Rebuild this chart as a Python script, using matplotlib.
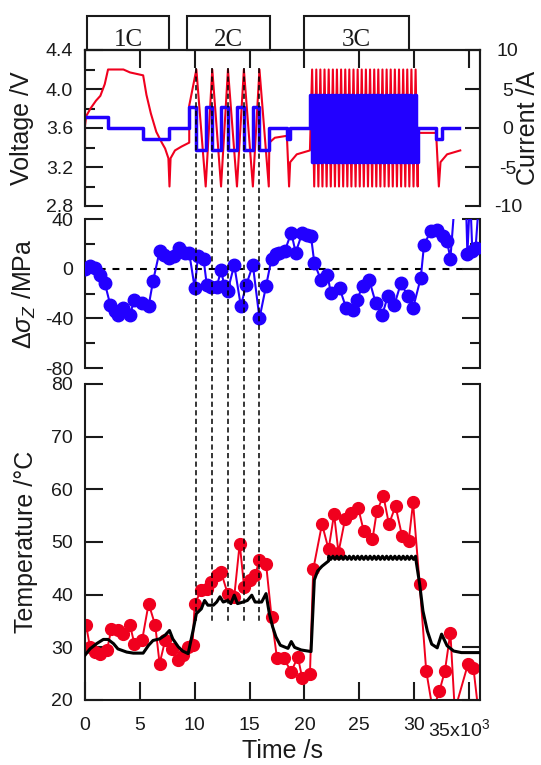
import matplotlib.pyplot as plt
from matplotlib.patches import Rectangle
from matplotlib.lines import Line2D
from matplotlib.transforms import blended_transform_factory

plt.rcParams['font.family'] = ['Liberation Sans', 'DejaVu Sans']
plt.rcParams['axes.unicode_minus'] = False
plt.rcParams['mathtext.fontset'] = 'custom'
plt.rcParams['mathtext.rm'] = 'Liberation Sans'
plt.rcParams['mathtext.it'] = 'Liberation Sans:italic'
plt.rcParams['mathtext.bf'] = 'Liberation Sans:bold'

RED = '#f0001e'
BLUE = '#2200ff'
INK = '#1a1a1a'

# ---- data, time in 10^3 s ----
# voltage during 1C step and the rest after it
v1_t = [0.0, 0.0, 0.1, 0.5, 1.0, 1.4, 1.8, 2.1, 3.5, 4.1, 5.3, 5.6, 6.0, 6.5, 7.0,
        7.3, 7.6, 7.7, 7.8, 8.2, 8.8, 9.5, 9.5]
v1_v = [3.40, 3.62, 3.72, 3.80, 3.88, 3.93, 4.05, 4.20, 4.20, 4.17, 4.14, 3.94, 3.75, 3.56, 3.45,
        3.39, 3.29, 3.00, 3.29, 3.37, 3.41, 3.45, 3.83]
# 2C cycles: end of charge / end of discharge
c2_peak_t = [10.15, 11.6, 13.03, 14.48, 15.9]
c2_trough_t = [11.0, 12.4, 13.85, 15.3, 16.75]
# rest between 2C and 3C
v2_t = [16.8, 17.3, 18.4, 18.6, 18.7, 19.3, 20.5]
v2_v = [3.45, 3.50, 3.52, 3.00, 3.25, 3.33, 3.37]
# 3C cycles
c3_peak_t = [20.70, 21.08, 21.45, 21.83, 22.21, 22.59, 22.96, 23.34, 23.72, 24.09, 24.47, 24.85, 25.22,
             25.60, 25.98, 26.36, 26.73, 27.11, 27.49, 27.86, 28.24, 28.62, 29.00, 29.37, 29.75, 30.13]
c3_trough_t = [20.89, 21.27, 21.64, 22.02, 22.40, 22.78, 23.15, 23.53, 23.91, 24.28, 24.66, 25.04, 25.41,
               25.79, 26.17, 26.55, 26.92, 27.30, 27.68, 28.05, 28.43, 28.81, 29.19, 29.56, 29.94, 30.32]
# rest after 3C
v3_t = [30.35, 32.0, 32.25, 32.4, 33.0, 34.2]
v3_v = [3.55, 3.55, 3.00, 3.25, 3.33, 3.37]
V_HI, V_LO = 4.2, 3.0

# current levels (A)
I1_HI, I1_LO = 1.4, -1.4
I2_HI, I2_LO = 2.7, -2.85
I3_HI, I3_LO = 4.26, -4.34
I_PULSE = -1.35

# axial stress change (MPa)
stress_t = [0.0, 0.45, 0.9, 1.4, 1.8, 2.3, 2.7, 3.0, 3.5, 4.1, 4.5, 5.2, 5.8, 6.2, 6.8,
            7.2, 7.7, 8.1, 8.6, 9.1, 9.5, 10.0, 10.3, 10.8, 11.1, 11.5, 12.0, 12.4, 12.7, 13.0,
            13.6, 14.2, 14.7, 15.3, 15.9, 16.5, 17.0, 17.4, 17.7, 18.2, 18.8, 19.2, 19.8, 20.2, 20.6,
            20.9, 21.5, 22.1, 22.4, 23.2, 23.8, 24.4, 24.8, 25.3, 25.9, 26.5, 27.1, 27.6, 28.2, 28.8,
            29.4, 29.9, 30.6, 30.9, 31.5, 32.1, 32.6, 33.0, 33.3, 33.75, 34.7, 34.85, 35.1, 35.3, 35.6,
            35.95]
stress_v = [0, 2, 0.5, -4.8, -11.5, -29, -34, -37, -32, -37, -25, -28, -30, -10, 14,
            11, 8.6, 10, 16.6, 13, 12.6, -15.6, 10, 8, -13, -15, -15, -1, -14, -18,
            3, -30, -13, 3, -40, -14, 8, 12, 13, 14, 29, 13, 28.7, 27, 26,
            4.6, -9, -4.8, -19.6, -15.6, -31.7, -33, -25, -14, -9, -27.7, -37, -22, -29, -11.5,
            -22, -31.7, -7.5, 19.3, 30, 31, 26, 22, 8, 60, 60, 12, 60, 14, 17,
            60]

# measured temperature (dots)
temp_t = [0.1, 0.45, 0.9, 1.4, 2.0, 2.4, 3.0, 3.5, 4.1, 4.5, 5.2, 5.8, 6.4, 6.8, 7.3,
          7.9, 8.5, 8.9, 9.4, 9.8, 10.0, 10.6, 11.1, 11.5, 12.0, 12.4, 13.0, 13.6, 14.1, 14.5,
          15.0, 15.5, 15.9, 16.5, 17.0, 17.5, 18.1, 18.8, 19.4, 19.8, 20.5, 20.8, 21.6, 22.2, 22.7,
          23.1, 23.7, 24.2, 24.9, 25.4, 26.2, 26.6, 27.2, 27.7, 28.3, 28.9, 29.5, 29.9, 30.5, 31.1,
          31.7, 32.3, 32.8, 33.3, 33.7, 34.9, 35.4, 35.9]
temp_v = [34.2, 30.1, 29.1, 28.8, 29.4, 33.5, 33.2, 32.6, 34.2, 30.7, 31.3, 38.3, 34.2, 26.9, 31.3,
          29.7, 27.5, 28.5, 30.1, 30.4, 38.3, 40.8, 41.1, 42.4, 43.7, 44.3, 40.2, 39.6, 49.7, 41.5,
          42.7, 43.7, 46.5, 45.9, 35.8, 27.9, 27.9, 25.4, 28.2, 24.1, 24.9, 44.8, 53.4, 48.6, 55.3,
          48.0, 54.3, 55.6, 56.5, 52.1, 50.5, 55.9, 58.7, 53.4, 56.8, 51.1, 50.2, 57.5, 42.0, 25.5,
          18.0, 21.7, 25.5, 32.8, 18.0, 26.8, 26.1, 17.0]

# simulated temperature (black line)
tc1_t = [0, 0.45, 1.06, 1.67, 2.1, 2.6, 3.0, 3.8, 4.4, 5.3, 5.8, 6.2, 6.8, 7.3, 7.7,
         8.0, 8.5, 8.9, 9.4, 9.85, 10.15, 10.6, 10.9, 11.2, 11.7, 12.0, 12.3, 12.6, 13.0, 13.3,
         13.6, 13.9, 14.4, 14.8, 15.2, 15.5, 16.1, 16.5, 16.8, 17.1, 17.4, 17.8, 18.5, 18.8, 19.1,
         19.7, 20.6, 20.9, 21.2, 21.6, 22.2]
tc1_v = [28.5, 29.7, 30.7, 31.5, 31.5, 30.7, 29.7, 29.1, 28.9, 28.9, 30.4, 31.3, 31.6, 32.3, 33.2,
         31.6, 30.1, 29.3, 28.8, 33.2, 36.4, 37.3, 38.9, 38.0, 38.0, 38.6, 39.6, 38.6, 38.9, 38.3,
         39.9, 38.3, 38.6, 38.9, 39.9, 38.6, 38.6, 40.2, 36.4, 33.9, 32.0, 30.4, 29.8, 31.1, 30.0,
         29.5, 29.2, 42.8, 44.5, 45.4, 46.4]
TC_HI, TC_LO = 47.3, 46.7
tc3_t = [30.2, 30.5, 30.8, 31.2, 31.6, 32.1, 32.5, 33.0, 33.6, 34.3, 35.0, 36.0]
tc3_v = [46.1, 42.0, 36.9, 33.1, 30.6, 29.9, 32.5, 30.3, 29.3, 29.0, 29.0, 29.0]

# dashed markers (end of each 2C charge)
mark_t = [10.15, 11.6, 13.03, 14.48, 15.9]

# C-rate boxes
box_labels = ['1C', '2C', '3C']
box_start = [0.15, 9.3, 20.0]
box_end = [7.7, 16.9, 29.5]

# ---- assemble the cycling series ----
volt_t = list(v1_t)
volt_v = list(v1_v)
cur_t = [0.0, 2.1, 5.3, 7.7, 9.5]
cur_a = [I1_HI, 0, I1_LO, 0, I2_HI]
for p, tr in zip(c2_peak_t, c2_trough_t):
    volt_t += [p, tr]
    volt_v += [V_HI, V_LO]
    cur_t += [p, tr]
    cur_a += [I2_LO, I2_HI]
cur_a[-1] = 0
volt_t += v2_t
volt_v += v2_v
cur_t += [18.4, 18.7, 20.5]
cur_a += [I_PULSE, 0, I3_HI]
tc_t = list(tc1_t)
tc_v = list(tc1_v)
for p, tr in zip(c3_peak_t, c3_trough_t):
    volt_t += [p, tr]
    volt_v += [V_HI, V_LO]
    cur_t += [p, tr]
    cur_a += [I3_LO, I3_HI]
    if 22.2 < p < 30.2:
        tc_t.append(p)
        tc_v.append(TC_HI)
    if 22.2 < tr < 30.2:
        tc_t.append(tr)
        tc_v.append(TC_LO)
cur_a[-1] = 0
volt_t += v3_t
volt_v += v3_v
cur_t += [32.0, 32.5, 34.1]
cur_a += [I_PULSE, 0, 0]
tc_t += tc3_t
tc_v += tc3_v

# ---- figure ----
W, H = 541, 765
fig = plt.figure(figsize=(W / 100, H / 100), dpi=100)
L, R = 85 / W, 480 / W
ax_v = fig.add_axes([L, 1 - 206 / H, R - L, 156 / H])
ax_s = fig.add_axes([L, 1 - 368 / H, R - L, 149 / H])
ax_t = fig.add_axes([L, 1 - 700 / H, R - L, 316 / H])


def base_style(ax):
    ax.tick_params(which='both', direction='in', width=1.5, color=INK, labelcolor=INK, labelsize=14)
    ax.tick_params(which='major', length=13)
    ax.tick_params(which='minor', length=7)
    for s in ax.spines.values():
        s.set_linewidth(1.5)
        s.set_color(INK)
    ax.set_xlim(0, 36)


# top: voltage and current
ax_v.plot(volt_t, volt_v, color=RED, lw=1.5)
ax_v.set_ylim(2.8, 4.4)
ax_v.set_yticks([2.8, 3.2, 3.6, 4.0, 4.4])
ax_v.set_yticks([3.0, 3.4, 3.8, 4.2], minor=True)
ax_v.set_yticklabels(['2.8', '3.2', '3.6', '4.0', '4.4'])
base_style(ax_v)
ax_v.set_xticks([0, 5, 10, 15, 20, 25, 30, 35])
ax_v.tick_params(axis='x', top=True, bottom=False, labeltop=False, labelbottom=False)
ax_v.tick_params(axis='y', pad=8.5)
ax_v.spines['bottom'].set_visible(False)
ax_v.set_ylabel('Voltage /V', fontsize=18, color=INK)
ax_v.yaxis.set_label_coords(-0.128, 0.5)

ax_c = ax_v.twinx()
ax_c.plot(cur_t, cur_a, color=BLUE, lw=2.5, drawstyle='steps-post')
ax_c.set_ylim(-10, 10)
ax_c.set_yticks([-10, -5, 0, 5, 10])
ax_c.set_yticklabels(['-10', '-5', '0', '5', '10'])
base_style(ax_c)
ax_c.tick_params(axis='y', length=11, pad=20)
for lab in ax_c.get_yticklabels():
    lab.set_horizontalalignment('center')
ax_c.spines['bottom'].set_visible(False)
ax_c.set_ylabel('Current /A', fontsize=18, color=INK)
ax_c.yaxis.set_label_coords(1.09, 0.5)

tr_box = blended_transform_factory(ax_v.transData, ax_v.transAxes)
for lab, x0, x1 in zip(box_labels, box_start, box_end):
    ax_v.add_patch(Rectangle((x0, 1.0), x1 - x0, 0.218, transform=tr_box, clip_on=False,
                             fill=False, lw=1.5, ec=INK))
    ax_v.text((x0 + x1) / 2, 1.026, lab, transform=tr_box, ha='center', va='baseline',
              fontsize=18, family='Liberation Serif', color=INK)

# middle: stress
ax_s.axhline(0, color='k', lw=1.5, dashes=(3.3, 3.3), zorder=1)
ax_s.plot(stress_t, stress_v, color=BLUE, lw=1.5, marker='o', ms=9, zorder=3)
ax_s.set_ylim(-80, 40)
ax_s.set_yticks([-80, -40, 0, 40])
ax_s.set_yticks([-60, -20, 20], minor=True)
ax_s.set_yticklabels(['-80', '-40', '0', '40'])
base_style(ax_s)
ax_s.tick_params(axis='y', which='both', left=True, right=True, pad=8.5)
ax_s.tick_params(axis='x', which='both', bottom=False, top=False, labelbottom=False)
ax_s.spines['top'].set_visible(False)
ax_s.spines['bottom'].set_visible(False)
ax_s.set_ylabel(r'$\Delta\sigma_Z$ /MPa', fontsize=18, color=INK)
ax_s.yaxis.set_label_coords(-0.12, 0.5)

# bottom: temperature
ax_t.plot(temp_t, temp_v, color=RED, lw=1.4, marker='o', ms=8.5, zorder=2)
ax_t.plot(tc_t, tc_v, color='k', lw=2.2, zorder=3)
ax_t.set_ylim(20, 80)
ax_t.set_yticks([20, 30, 40, 50, 60, 70, 80])
base_style(ax_t)
ax_t.tick_params(axis='y', left=True, right=True, pad=8.5)
ax_t.set_xticks([0, 5, 10, 15, 20, 25, 30, 35])
ax_t.set_xticklabels(['0', '5', '10', '15', '20', '25', '30', ''])
ax_t.tick_params(axis='x', pad=12)
ax_t.spines['top'].set_visible(False)
ax_t.text(34.1, -0.058, r'35x10$^3$', transform=blended_transform_factory(ax_t.transData, ax_t.transAxes),
          ha='center', va='top', fontsize=14, color=INK)
ax_t.set_ylabel('Temperature /°C', fontsize=18, color=INK)
ax_t.yaxis.set_label_coords(-0.12, 0.5)
ax_t.set_xlabel('Time /s', fontsize=18, color=INK)
ax_t.xaxis.set_label_coords(0.5, -0.122)

# dashed guides through all three panels
tr_guide = blended_transform_factory(ax_v.transData, fig.transFigure)
for x in mark_t:
    fig.add_artist(Line2D([x, x], [1 - 68 / H, 1 - 622 / H], transform=tr_guide,
                          color='k', lw=1.1, dashes=(3.4, 2.2), zorder=5))

fig.savefig('out.png', dpi=100)
